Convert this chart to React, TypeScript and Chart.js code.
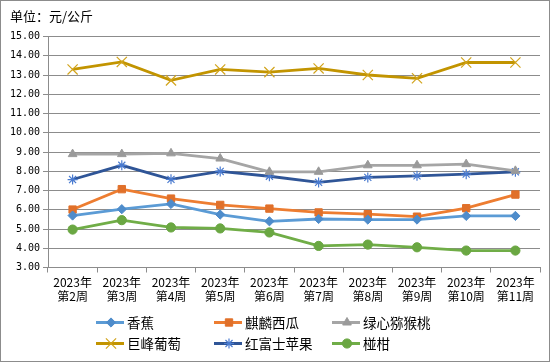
import React, { useEffect, useRef } from "react";
import { Chart, registerables } from "chart.js";
import { drawPoint } from "chart.js/helpers";

Chart.register(...registerables);

const categories: string[][] = [
  ["2023年", "第2周"],
  ["2023年", "第3周"],
  ["2023年", "第4周"],
  ["2023年", "第5周"],
  ["2023年", "第6周"],
  ["2023年", "第7周"],
  ["2023年", "第8周"],
  ["2023年", "第9周"],
  ["2023年", "第10周"],
  ["2023年", "第11周"],
];

const banana = [5.7, 6.03, 6.3, 5.75, 5.4, 5.52, 5.49, 5.49, 5.68, 5.68];
const watermelon = [6.01, 7.07, 6.58, 6.25, 6.06, 5.86, 5.77, 5.64, 6.08, 6.79];
const kiwi = [8.89, 8.89, 8.93, 8.66, 7.97, 7.97, 8.31, 8.31, 8.37, 8.02];
const grape = [13.29, 13.68, 12.72, 13.29, 13.15, 13.34, 13.0, 12.83, 13.65, 13.65];
const apple = [7.57, 8.31, 7.58, 7.99, 7.74, 7.42, 7.68, 7.76, 7.85, 7.97];
const tangerine = [4.97, 5.46, 5.08, 5.03, 4.82, 4.12, 4.19, 4.05, 3.88, 3.88];

const seriesNames = ["香蕉", "麒麟西瓜", "绿心猕猴桃", "巨峰葡萄", "红富士苹果", "椪柑"];

const titleText = "单位：元/公斤";

const CJK = '"Noto Sans CJK SC", "Noto Sans CJK JP", sans-serif';

export default function App() {
  const ref = useRef<HTMLCanvasElement | null>(null);

  useEffect(() => {
    document.body.style.margin = "0";
    const canvas = ref.current;
    if (!canvas) return;

    const mk = (
      label: string,
      data: number[],
      line: string,
      marker: string,
      pointStyle: any,
      radius: number,
      pbw: number
    ) => ({
      label,
      data,
      borderColor: line,
      backgroundColor: marker,
      pointBackgroundColor: marker,
      pointBorderColor: marker,
      pointStyle,
      pointRadius: radius,
      pointBorderWidth: pbw,
      borderWidth: 2.8,
      tension: 0,
      fill: false,
    });

    const datasets = [
      mk(seriesNames[0], banana, "#5B9BD5", "#4E8CCB", "rectRot", 4.6, 1),
      mk(seriesNames[1], watermelon, "#ED7D31", "#E0702A", "rect", 5.2, 1),
      mk(seriesNames[2], kiwi, "#A5A5A5", "#9A9A9A", "triangle", 5, 1),
      mk(seriesNames[3], grape, "#C29400", "#D2A41C", "crossRot", 7.2, 1.2),
      mk(seriesNames[4], apple, "#2F5597", "#4A7BD0", "star", 5, 1.2),
      mk(seriesNames[5], tangerine, "#70AD47", "#6AA742", "circle", 4.6, 1),
    ];

    const decor = {
      id: "decor",
      beforeDraw(chart: any) {
        const ctx = chart.ctx;
        ctx.save();
        ctx.fillStyle = "#ffffff";
        ctx.fillRect(0, 0, chart.width, chart.height);
        ctx.restore();
      },
      afterDraw(chart: any) {
        const ctx = chart.ctx;
        ctx.save();
        // outer border
        ctx.strokeStyle = "#8c8c8c";
        ctx.lineWidth = 1;
        ctx.strokeRect(0.5, 0.5, chart.width - 1, chart.height - 1);
        // title
        ctx.fillStyle = "#000";
        ctx.font = `13px ${CJK}`;
        ctx.textBaseline = "middle";
        ctx.textAlign = "left";
        ctx.fillText(titleText, 10, 16);
        // legend
        chart.data.datasets.forEach((ds: any, i: number) => {
          const col = i % 3;
          const row = Math.floor(i / 3);
          const x0 = 96 + col * 118;
          const y = 322.5 + row * 21;
          ctx.strokeStyle = ds.borderColor;
          ctx.lineWidth = 3;
          ctx.beginPath();
          ctx.moveTo(x0, y);
          ctx.lineTo(x0 + 28, y);
          ctx.stroke();
          ctx.fillStyle = ds.pointBackgroundColor;
          ctx.strokeStyle = ds.pointBorderColor;
          ctx.lineWidth = ds.pointBorderWidth;
          drawPoint(
            ctx,
            {
              pointStyle: ds.pointStyle,
              rotation: 0,
              radius: ds.pointRadius,
              borderWidth: ds.pointBorderWidth,
            } as any,
            x0 + 15,
            y
          );
          ctx.fillStyle = "#000";
          ctx.font = `13.5px ${CJK}`;
          ctx.textBaseline = "middle";
          ctx.textAlign = "left";
          ctx.fillText(ds.label, x0 + 31, y + 0.5);
        });
        ctx.restore();
      },
    };

    const chart = new Chart(canvas, {
      type: "line",
      data: { labels: categories, datasets },
      options: {
        responsive: false,
        animation: false,
        devicePixelRatio: 1,
        layout: { padding: { left: 0, right: 10, top: 36.5, bottom: 49.5 } },
        plugins: {
          legend: { display: false },
          tooltip: { enabled: false },
          title: { display: false },
        },
        scales: {
          x: {
            type: "category",
            offset: true,
            grid: {
              offset: true,
              drawOnChartArea: false,
              drawTicks: true,
              tickLength: 5,
              color: "#8c8c8c",
            },
            border: { display: true, color: "#8c8c8c", width: 1 },
            ticks: {
              color: "#000",
              padding: 3,
              maxRotation: 0,
              autoSkip: false,
              font: { family: '"Liberation Sans Narrow", ' + CJK, size: 12, lineHeight: 1.17 },
            },
            afterFit(scale: any) {
              scale.height = 45;
            },
          },
          y: {
            min: 3,
            max: 15,
            grid: {
              color: "#8c8c8c",
              drawTicks: true,
              tickLength: 5,
            },
            border: { display: true, color: "#8c8c8c", width: 1 },
            ticks: {
              stepSize: 1,
              color: "#000",
              padding: 3,
              font: { family: '"DejaVu Sans Mono", monospace', size: 10 },
              callback: (v: any) => Number(v).toFixed(2),
            },
            afterFit(scale: any) {
              scale.width = 48;
            },
          },
        },
      },
      plugins: [decor],
    });

    return () => chart.destroy();
  }, []);

  return (
    <div style={{ position: "fixed", left: 0, top: 0, width: 550, height: 362 }}>
      <canvas ref={ref} width={550} height={362} style={{ width: 550, height: 362, display: "block" }} />
    </div>
  );
}
